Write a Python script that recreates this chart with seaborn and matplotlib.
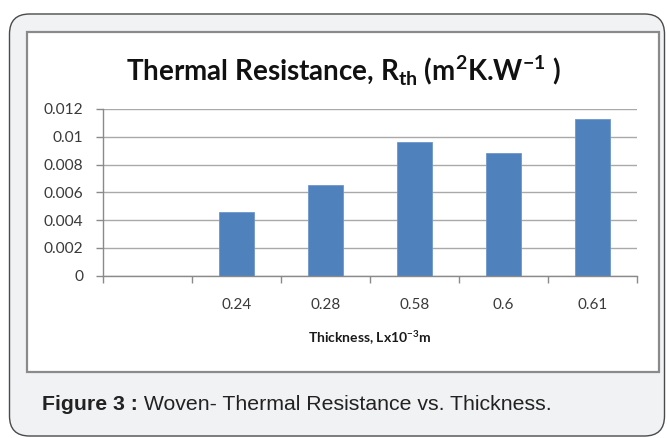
import numpy as np
import pandas as pd
import matplotlib
matplotlib.use("Agg")
import matplotlib.pyplot as plt
from matplotlib.patches import FancyBboxPatch, Rectangle
import seaborn as sns

# ---- data ----
categories = ["", "0.24", "0.28", "0.58", "0.6", "0.61"]
values = [np.nan, 0.0046, 0.0065, 0.0096, 0.0088, 0.0113]
y_ticks = [0, 0.002, 0.004, 0.006, 0.008, 0.010, 0.012]
y_tick_labels = ["0", "0.002", "0.004", "0.006", "0.008", "0.01", "0.012"]

df = pd.DataFrame({"thickness": categories, "rth": values})

sns.set_theme(style="white")
plt.rcParams["font.family"] = ["Lato", "DejaVu Sans"]
plt.rcParams["mathtext.fontset"] = "custom"
plt.rcParams["mathtext.rm"] = "Lato"
plt.rcParams["mathtext.bf"] = "Lato:bold"

fig = plt.figure(figsize=(6.67, 4.38), dpi=100)
fig.patch.set_facecolor("white")

# outer rounded panel
outer = FancyBboxPatch((0.095, 0.02), 6.55, 4.22,
                       boxstyle="round,pad=0,rounding_size=0.2",
                       transform=fig.dpi_scale_trans, facecolor="#f1f2f4",
                       edgecolor="#4a4a4a", linewidth=1.0, zorder=0)
fig.patches.append(outer)
# inner chart frame
inner = Rectangle((0.27, 0.66), 6.32, 3.40, transform=fig.dpi_scale_trans,
                  facecolor="white", edgecolor="#8a8a8a", linewidth=1.6, zorder=0.5)
fig.patches.append(inner)

ax = fig.add_axes([103/667, 1-275.7/438, (637-103)/667, (275.7-109)/438])
ax.set_zorder(3)
ax.set_facecolor("none")
sns.barplot(data=df, x="thickness", y="rth", order=categories, color="#4f81bd",
            saturation=1, width=0.39, edgecolor="#6d97cc", linewidth=0.6, ax=ax)

ax.set_ylim(0, 0.012)
ax.set_xlim(-0.5, len(categories) - 0.5)
ax.set_yticks(y_ticks)
ax.set_yticklabels(y_tick_labels)
ax.yaxis.grid(True, color="#a9a9a9", linewidth=1.0)
ax.set_axisbelow(True)

# category boundary ticks (major), labels at centers (minor)
ax.set_xticks(np.arange(-0.5, len(categories), 1.0))
ax.set_xticklabels([])
ax.set_xticks(np.arange(len(categories)), minor=True)
ax.set_xticklabels(categories, minor=True)
ax.tick_params(axis="x", which="major", direction="out", length=5, color="#8a8a8a", width=1, bottom=True)
ax.tick_params(axis="x", which="minor", length=0, pad=16, labelsize=11, labelcolor="#3a3a3a")
ax.tick_params(axis="y", direction="out", length=5, color="#8a8a8a", width=1, left=True,
               labelsize=11.2, labelcolor="#3a3a3a", pad=9)

for s in ["top", "right"]:
    ax.spines[s].set_visible(False)
for s in ["left", "bottom"]:
    ax.spines[s].set_color("#8a8a8a")
    ax.spines[s].set_linewidth(1.0)

ax.set_ylabel("")
ax.set_xlabel(r"Thickness, Lx10$^{\mathbf{-3}}$m", fontsize=10, fontweight="bold",
              color="#1a1a1a", labelpad=12)

fig.text(343/667, 1-71/438, r"Thermal Resistance, R$_{\mathbf{th}}$ (m$^{\mathbf{2}}$K.W$^{\mathbf{-1}}$ )",
         ha="center", va="center", fontsize=20, fontweight="bold", color="#111111", zorder=4)

t1 = fig.text(42/667, 1-405/438, "Figure 3 :", ha="left", va="center",
              fontsize=15.3, fontweight="bold", family=["Liberation Sans", "DejaVu Sans"],
              color="#222222", zorder=4)
ax.annotate(" Woven- Thermal Resistance vs. Thickness.", xy=(1, 0.5), xycoords=t1,
            ha="left", va="center", fontsize=15.3, family=["Liberation Sans", "DejaVu Sans"],
            color="#222222", annotation_clip=False)

fig.savefig("out.png", dpi=100)
